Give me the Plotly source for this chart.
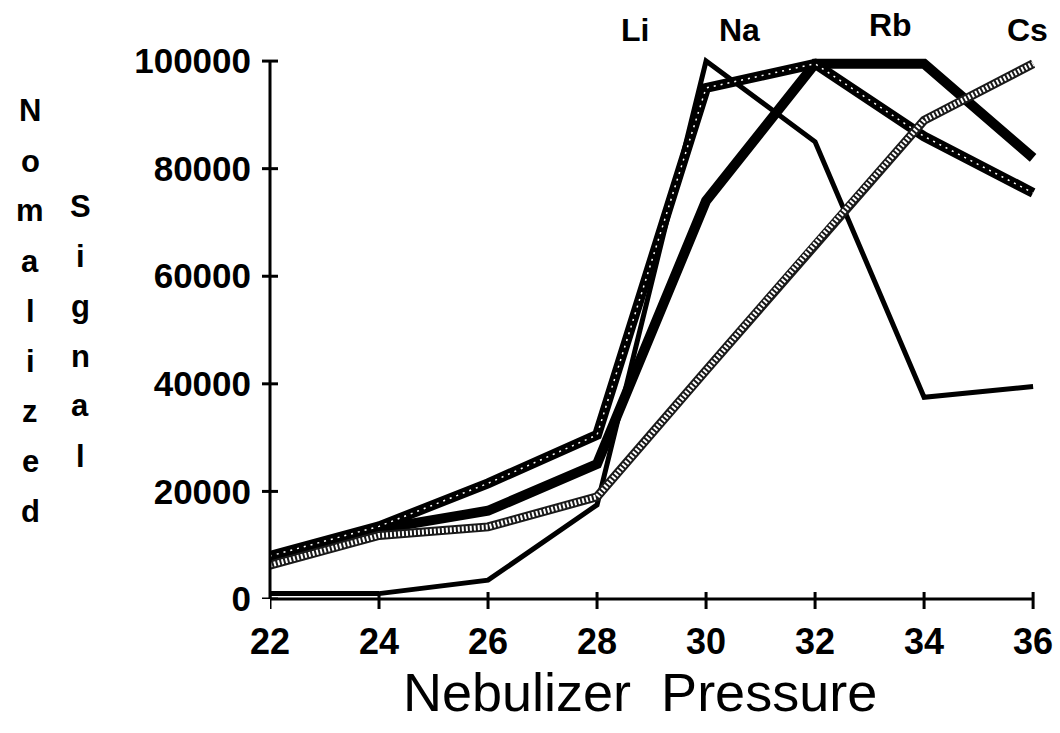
import plotly.graph_objects as go

# Nebulizer pressure settings and normalized alkali-metal signals
pressure = [22, 24, 26, 28, 30, 32, 34, 36]
li_signal = [1000, 1000, 3500, 17500, 100000, 85000, 37500, 39500]
na_signal = [8000, 13500, 21500, 30500, 95000, 99500, 86000, 75500]
rb_signal = [7500, 13000, 16400, 25100, 74000, 99500, 99500, 82000]
cs_signal = [6300, 11800, 13400, 19000, 42500, 66000, 89000, 99500]

x_ticks = [22, 24, 26, 28, 30, 32, 34, 36]
y_ticks = [0, 20000, 40000, 60000, 80000, 100000]

series_names = ["Li", "Na", "Rb", "Cs"]
y_title_left = list("Nomalized")
y_title_right = list("Signal")

W, H = 1060, 733
L, T, PW, PH = 270, 53, 774, 546
B = H - T - PH


def px_x(px):
    return (px - L) / PW


def px_y(py):
    return (T + PH - py) / PH


FONT = "Liberation Sans, Arial, sans-serif"

fig = go.Figure()

# Li: thin solid black
fig.add_trace(go.Scatter(x=pressure, y=li_signal, mode="lines", name="Li",
                         line=dict(color="black", width=5)))
# Rb: heavy solid black
fig.add_trace(go.Scatter(x=pressure, y=rb_signal, mode="lines", name="Rb",
                         line=dict(color="black", width=10)))
# Na: heavy black with a row of small white dots
fig.add_trace(go.Scatter(x=pressure, y=na_signal, mode="lines", name="Na",
                         line=dict(color="black", width=10)))
fig.add_trace(go.Scatter(x=pressure, y=na_signal, mode="lines", showlegend=False,
                         hoverinfo="skip",
                         line=dict(color="white", width=1.5, dash="2px,5px")))
# Cs: checkered grey band
fig.add_trace(go.Scatter(x=pressure, y=cs_signal, mode="lines", name="Cs",
                         line=dict(color="#1a1a1a", width=9)))
fig.add_trace(go.Scatter(x=pressure, y=cs_signal, mode="lines", showlegend=False,
                         hoverinfo="skip",
                         line=dict(color="white", width=5, dash="2px,2px")))

shapes = []
# axis lines
shapes.append(dict(type="line", xref="x", yref="paper", x0=x_ticks[0], x1=x_ticks[-1],
                   y0=0, y1=0, line=dict(color="black", width=3)))
shapes.append(dict(type="line", xref="paper", yref="y", x0=0, x1=0,
                   y0=y_ticks[0], y1=y_ticks[-1], line=dict(color="black", width=3)))
# tick marks crossing the axes
for xv in x_ticks:
    shapes.append(dict(type="line", xref="x", yref="paper", ysizemode="pixel",
                       yanchor=0, x0=xv, x1=xv, y0=-10, y1=7,
                       line=dict(color="black", width=3)))
for yv in y_ticks:
    shapes.append(dict(type="line", xref="paper", yref="y", xsizemode="pixel",
                       xanchor=0, x0=-8, x1=8, y0=yv, y1=yv,
                       line=dict(color="black", width=3)))

annotations = []
# element labels along the top
label_pos = {"Li": (635, 30), "Na": (739, 30), "Rb": (890, 25), "Cs": (1027, 30)}
for name in series_names:
    px, py = label_pos[name]
    annotations.append(dict(xref="paper", yref="paper", x=px_x(px), y=px_y(py),
                            text=name, showarrow=False, xanchor="center", yanchor="middle",
                            font=dict(family=FONT, size=32, color="black", weight="bold")))
# stacked vertical axis title
for i, ch in enumerate(y_title_left):
    base = 122 + 50 * i
    annotations.append(dict(xref="paper", yref="paper", x=px_x(30), y=px_y(base - 11),
                            text=ch, showarrow=False, xanchor="center", yanchor="middle",
                            font=dict(family=FONT, size=31, color="black", weight="bold")))
for i, ch in enumerate(y_title_right):
    base = 217 + 50 * i
    annotations.append(dict(xref="paper", yref="paper", x=px_x(80), y=px_y(base - 11),
                            text=ch, showarrow=False, xanchor="center", yanchor="middle",
                            font=dict(family=FONT, size=31, color="black", weight="bold")))
# horizontal axis title
annotations.append(dict(xref="paper", yref="paper", x=px_x(640), y=px_y(692),
                        text="Nebulizer\u00a0\u00a0Pressure", showarrow=False,
                        xanchor="center", yanchor="middle",
                        font=dict(family=FONT, size=54, color="black")))

fig.update_layout(
    width=W, height=H,
    margin=dict(l=L, r=W - L - PW, t=T, b=B, pad=0, autoexpand=False),
    paper_bgcolor="white", plot_bgcolor="white",
    showlegend=False,
    xaxis=dict(range=[22, 36.2], tickvals=x_ticks, ticktext=[str(v) for v in x_ticks],
               showgrid=False, zeroline=False, showline=False, ticks="",
               automargin=False, ticklabelstandoff=18,
               tickfont=dict(family=FONT, size=36, color="black", weight="bold")),
    yaxis=dict(range=[0, 101500], tickvals=y_ticks, ticktext=[str(v) for v in y_ticks],
               showgrid=False, zeroline=False, showline=False, ticks="",
               automargin=False, ticklabelstandoff=18,
               tickfont=dict(family=FONT, size=35, color="black", weight="bold")),
    shapes=shapes,
    annotations=annotations,
)

fig.write_html("out.html")
